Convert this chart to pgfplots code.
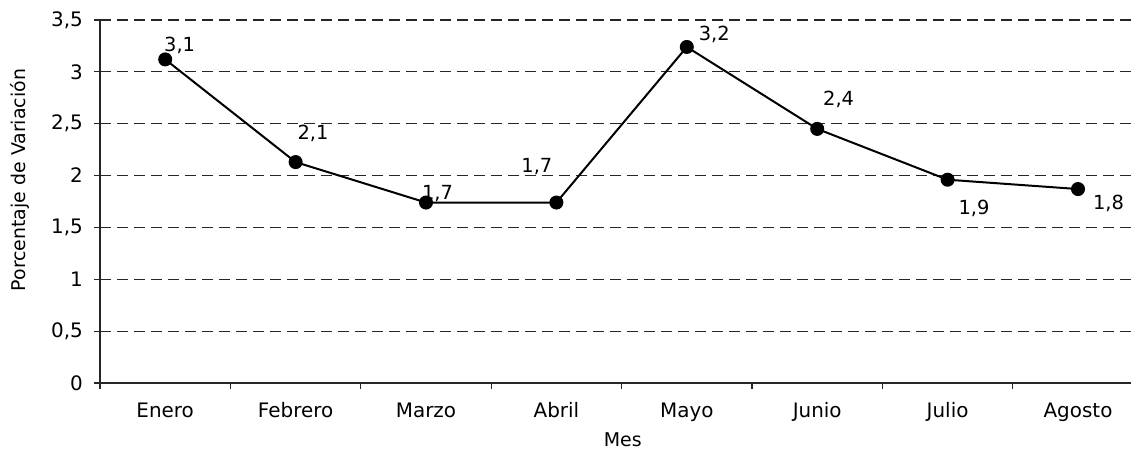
\documentclass[border=0pt]{standalone}
\usepackage{pgfplots}
\pgfplotsset{compat=1.18}
\usepackage{pgfplotstable}
\usepackage{fontspec}
\setmainfont{DejaVu Sans}

\pgfplotstableread{
x y lab dx dy
0 3.12 {3,1} -2 8
1 2.13 {2,1} 1 23
2 1.74 {1,7} -5 3
3 1.74 {1,7} -36 30
4 3.24 {3,2} 11 6
5 2.45 {2,4} 5 23
6 1.96 {1,9} 10 -35
7 1.87 {1,8} 14 -20
}\datatable

\begin{document}
\begin{tikzpicture}
\begin{axis}[
  at={(100bp,66bp)}, anchor=south west,
  scale only axis, width=1031bp, height=363bp,
  xmin=-0.5, xmax=7.406, ymin=0, ymax=3.5,
  axis x line*=bottom, axis y line*=left,
  axis line style={black!85, line width=1.5bp, -},
  tick align=outside, major tick length=6bp,
  tick style={black!85, line width=1.1bp},
  xtick={-0.5,0.5,...,6.5}, xticklabels={},
  extra x ticks={0,1,2,3,4,5,6,7},
  extra x tick labels={Enero,Febrero,Marzo,Abril,Mayo,Junio,Julio,Agosto},
  extra x tick style={major tick length=0pt},
  ytick={0,0.5,...,3.5},
  yticklabels={0,{0,5},1,{1,5},2,{2,5},3,{3,5}},
  ymajorgrids,
  y grid style={black!85, dash pattern=on 11bp off 6bp, line width=1.1bp},
  ticklabel style={font=\fontsize{20}{23}\selectfont},
  yticklabel style={anchor=east, inner sep=0pt, xshift=-11bp},
  xticklabel style={anchor=base, inner sep=0pt, yshift=-35bp},
  ylabel={Porcentaje de Variación},
  xlabel={Mes},
  label style={font=\fontsize{19}{22}\selectfont},
  ylabel style={at={(axis description cs:-0.0781,0.559)}, anchor=center},
  xlabel style={at={(axis description cs:0.507,-0.1736)}, anchor=base, inner sep=0pt},
  clip=false,
]
\addplot[black, line width=2bp, mark=*, mark size=6bp, mark options={fill=black, solid},
  nodes near coords, point meta=explicit symbolic,
  visualization depends on={\thisrow{dx}\as\dx},
  visualization depends on={\thisrow{dy}\as\dy},
  every node near coord/.append style={anchor=base west, inner sep=0pt,
     xshift=\dx*1bp, yshift=\dy*1bp, font=\fontsize{19.5}{22}\selectfont, text=black}]
  table[x=x, y=y, meta=lab] {\datatable};
\end{axis}
\pgfresetboundingbox
\useasboundingbox (0,0) rectangle (1131bp,449bp);
\end{tikzpicture}
\end{document}
